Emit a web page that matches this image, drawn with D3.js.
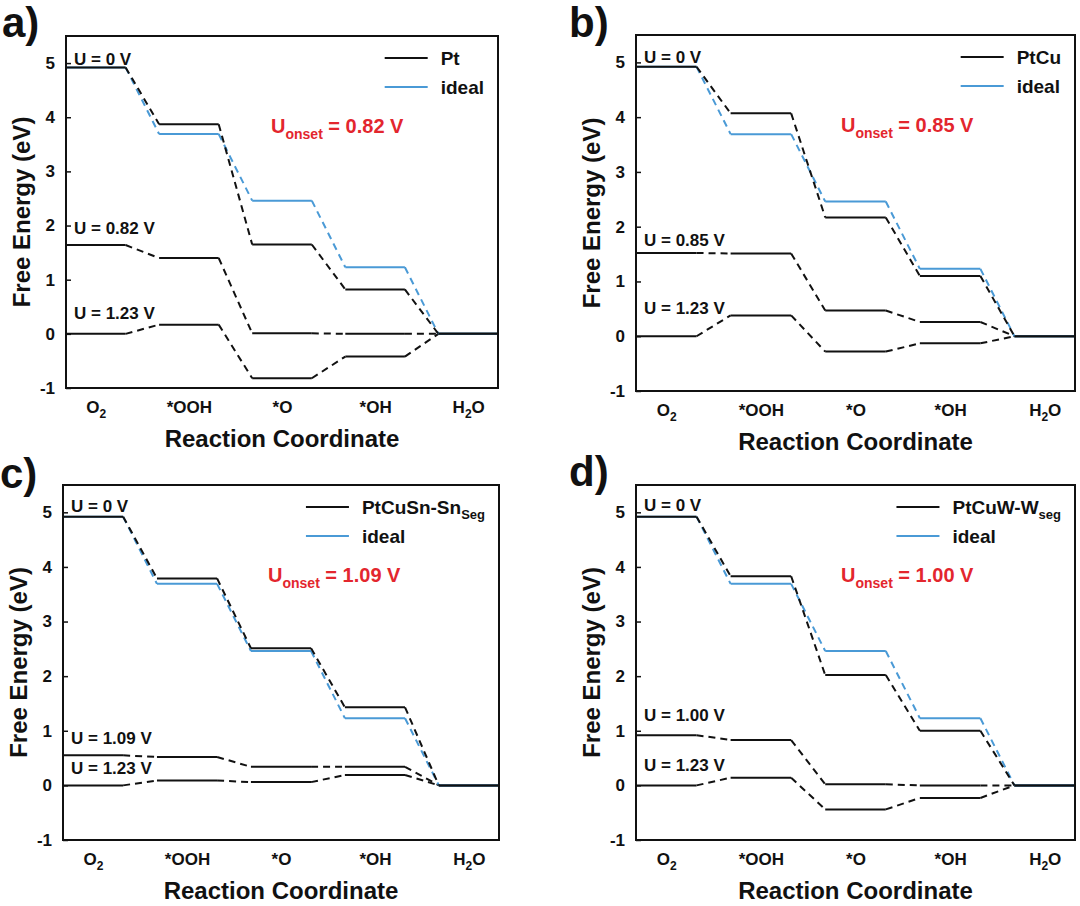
<!DOCTYPE html>
<html>
<head>
<meta charset="utf-8">
<script src="https://cdn.jsdelivr.net/npm/d3@7"></script>
<style>
  html, body { margin: 0; padding: 0; background: #fff; }
  svg text { font-family: Arial, "Liberation Sans", Helvetica, sans-serif; font-weight: bold; }
</style>
</head>
<body>
<svg id="chart" width="1080" height="906"></svg>
<script>
// ---------------- data ----------------
const categories = ["O2", "*OOH", "*O", "*OH", "H2O"];
const yTicks = [-1, 0, 1, 2, 3, 4, 5];

const idealU0 = [4.92, 3.69, 2.46, 1.23, 0];

// a) Pt
const ptU0     = [4.92, 3.87, 1.65, 0.82, 0];
const ptUonset = [1.64, 1.40, 0.01, 0.00, 0];
const ptU123   = [0.00, 0.17, -0.82, -0.42, 0];
const ptLabels = ["U = 0 V", "U = 0.82 V", "U = 1.23 V"];
const ptLabelY = [5.08, 1.95, 0.39];

// b) PtCu
const ptcuU0     = [4.92, 4.07, 2.17, 1.10, 0];
const ptcuUonset = [1.52, 1.51, 0.47, 0.26, 0];
const ptcuU123   = [0.00, 0.38, -0.28, -0.13, 0];
const ptcuLabels = ["U = 0 V", "U = 0.85 V", "U = 1.23 V"];
const ptcuLabelY = [5.09, 1.76, 0.52];

// c) PtCuSn-Sn_Seg
const ptcusnU0     = [4.92, 3.79, 2.51, 1.43, 0];
const ptcusnUonset = [0.55, 0.52, 0.34, 0.34, 0];
const ptcusnU123   = [0.00, 0.09, 0.06, 0.19, 0];
const ptcusnLabels = ["U = 0 V", "U = 1.09 V", "U = 1.23 V"];
const ptcusnLabelY = [5.11, 0.87, 0.32];

// d) PtCuW-W_seg
const ptcuwU0     = [4.92, 3.83, 2.02, 1.00, 0];
const ptcuwUonset = [0.92, 0.83, 0.02, 0.00, 0];
const ptcuwU123   = [0.00, 0.14, -0.44, -0.23, 0];
const ptcuwLabels = ["U = 0 V", "U = 1.00 V", "U = 1.23 V"];
const ptcuwLabelY = [5.14, 1.29, 0.38];

const panelTags   = ["a)", "b)", "c)", "d)"];
const legendNames = [["Pt", ""], ["PtCu", ""], ["PtCuSn-Sn", "Seg"], ["PtCuW-W", "seg"]];
const onsetValues = ["0.82", "0.85", "1.09", "1.00"];

// ---------------- layout / style ----------------
const BLACK = "#111111";
const BLUE = "#4a9ad6";
const RED = "#e3262e";
const layouts = [
  { left: 66,  right: 498,  top: 36,  bottom: 388, tagX: 2,   tagY: 37 },
  { left: 636, right: 1075, top: 35,  bottom: 391, tagX: 569, tagY: 37 },
  { left: 63,  right: 499,  top: 485, bottom: 840, tagX: 0,   tagY: 488 },
  { left: 636, right: 1075, top: 485, bottom: 840, tagX: 569, tagY: 486 }
];
const HW = 0.32;

const panels = [
  { series: [ptU123, ptUonset, ptU0], labels: ptLabels, labelY: ptLabelY },
  { series: [ptcuU123, ptcuUonset, ptcuU0], labels: ptcuLabels, labelY: ptcuLabelY },
  { series: [ptcusnU123, ptcusnUonset, ptcusnU0], labels: ptcusnLabels, labelY: ptcusnLabelY },
  { series: [ptcuwU123, ptcuwUonset, ptcuwU0], labels: ptcuwLabels, labelY: ptcuwLabelY }
];

const svg = d3.select("#chart");
svg.append("rect").attr("width", 1080).attr("height", 906).attr("fill", "#fff");

function addSubText(sel, text) {
  // render digits in O2 / H2O as subscripts
  const m = text.match(/^([A-Z])(\d)([A-Z]?)$/);
  if (!m) { sel.text(text); return; }
  sel.text(null);
  sel.append("tspan").text(m[1]);
  sel.append("tspan").attr("dy", 5).attr("font-size", 12).text(m[2]);
  if (m[3]) sel.append("tspan").attr("dy", -5).text(m[3]);
}

function drawSeries(g, x, y, vals, color) {
  const line = d3.line().x(d => d[0]).y(d => d[1]);
  vals.forEach((v, i) => {
    g.append("path")
      .attr("d", line([[x(i - HW), y(v)], [x(i + HW), y(v)]]))
      .attr("stroke", color).attr("stroke-width", 2).attr("fill", "none");
    if (i < vals.length - 1) {
      g.append("path")
        .attr("d", line([[x(i + HW), y(v)], [x(i + 1 - HW), y(vals[i + 1])]]))
        .attr("stroke", color).attr("stroke-width", 2).attr("fill", "none")
        .attr("stroke-dasharray", "7,5");
    }
  });
}

panels.forEach((p, k) => {
  const L = layouts[k];
  const g = svg.append("g");
  const x = d3.scaleLinear().domain([-HW, categories.length - 1 + HW]).range([L.left, L.right]);
  const y = d3.scaleLinear().domain([-1, 5.5]).range([L.bottom, L.top]);

  // panel tag
  g.append("text").attr("x", L.tagX).attr("y", L.tagY)
    .attr("font-size", 42).attr("fill", BLACK).text(panelTags[k]);

  // series (shifted potentials first, then ideal, then U=0)
  drawSeries(g, x, y, p.series[0], BLACK);
  drawSeries(g, x, y, p.series[1], BLACK);
  drawSeries(g, x, y, idealU0, BLUE);
  drawSeries(g, x, y, p.series[2], BLACK);

  // frame
  g.append("rect").attr("x", L.left).attr("y", L.top)
    .attr("width", L.right - L.left).attr("height", L.bottom - L.top)
    .attr("fill", "none").attr("stroke", BLACK).attr("stroke-width", 2);

  // y axis
  const ya = g.append("g").attr("transform", `translate(${L.left},0)`)
    .call(d3.axisLeft(y).tickValues(yTicks).tickSize(-5).tickPadding(11).tickFormat(d => String(d)));
  ya.select(".domain").remove();
  ya.selectAll(".tick line").attr("stroke", BLACK).attr("stroke-width", 1.5);
  ya.selectAll(".tick text").attr("font-size", 17).attr("fill", BLACK)
    .attr("font-family", "Arial, 'Liberation Sans', sans-serif").attr("font-weight", "bold");

  // x axis (categories)
  const xa = g.append("g").attr("transform", `translate(0,${L.bottom})`)
    .call(d3.axisBottom(x).tickValues(d3.range(categories.length)).tickSize(0).tickPadding(13)
      .tickFormat(i => categories[i]));
  xa.select(".domain").remove();
  xa.selectAll(".tick text").attr("font-size", 17).attr("fill", BLACK)
    .attr("font-family", "Arial, 'Liberation Sans', sans-serif").attr("font-weight", "bold")
    .each(function (i) { addSubText(d3.select(this), categories[i]); });

  // axis titles
  g.append("text").attr("x", (L.left + L.right) / 2).attr("y", L.bottom + 59)
    .attr("text-anchor", "middle").attr("font-size", 24).attr("fill", BLACK)
    .text("Reaction Coordinate");
  const cy = (L.top + L.bottom) / 2;
  const tx = L.left - 36;
  g.append("text").attr("transform", `translate(${tx},${cy}) rotate(-90)`)
    .attr("text-anchor", "middle").attr("font-size", 24).attr("fill", BLACK)
    .text("Free Energy (eV)");

  // potential labels
  p.labels.forEach((t, j) => {
    g.append("text").attr("x", L.left + 8).attr("y", y(p.labelY[j]) + 6)
      .attr("font-size", 17).attr("fill", BLACK).text(t);
  });

  // legend
  const nm = legendNames[k];
  const t1 = g.append("text").attr("font-size", 19).attr("fill", BLACK);
  t1.append("tspan").text(nm[0]);
  if (nm[1]) {
    t1.append("tspan").attr("dy", 5).attr("font-size", 13).text(nm[1]);
  }
  const t2 = g.append("text").attr("font-size", 19).attr("fill", BLACK).text("ideal");
  const maxW = Math.max(t1.node().getComputedTextLength(), t2.node().getComputedTextLength());
  const lx = L.right - 14 - maxW;
  const r1 = L.top + 22, r2 = L.top + 51;
  t1.attr("x", lx).attr("y", r1 + 7);
  t2.attr("x", lx).attr("y", r2 + 7);
  g.append("line").attr("x1", lx - 56).attr("x2", lx - 13).attr("y1", r1).attr("y2", r1)
    .attr("stroke", BLACK).attr("stroke-width", 2);
  g.append("line").attr("x1", lx - 56).attr("x2", lx - 13).attr("y1", r2).attr("y2", r2)
    .attr("stroke", BLUE).attr("stroke-width", 2);

  // onset annotation
  const on = g.append("text").attr("x", L.left + 205).attr("y", L.top + 97)
    .attr("font-size", 20).attr("fill", RED);
  on.append("tspan").text("U");
  on.append("tspan").attr("dy", 6).attr("font-size", 14).text("onset");
  on.append("tspan").attr("dy", -6).text(" = " + onsetValues[k] + " V");
});
</script>
</body>
</html>
